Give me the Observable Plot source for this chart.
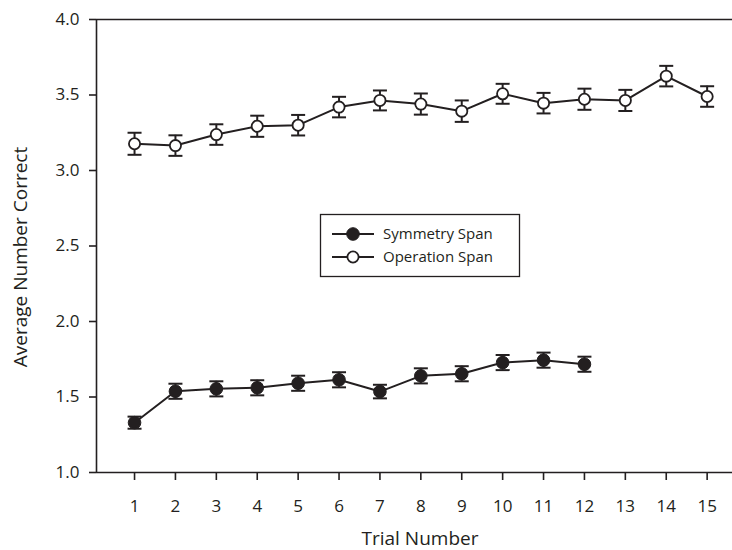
<!DOCTYPE html>
<html>
<head>
<meta charset="utf-8">
<script src="https://cdn.jsdelivr.net/npm/d3@7"></script>
<script src="https://cdn.jsdelivr.net/npm/@observablehq/plot@0.6"></script>
<style>
  html, body { margin: 0; padding: 0; background: #fff; }
  #chart { position: relative; width: 732px; height: 550px; }
</style>
</head>
<body>
<div id="chart"></div>
<script>
const trials = [1, 2, 3, 4, 5, 6, 7, 8, 9, 10, 11, 12, 13, 14, 15];
const symmetryMean = [1.33, 1.538, 1.554, 1.561, 1.591, 1.614, 1.536, 1.64, 1.654, 1.728, 1.744, 1.717];
const symmetryErr  = [0.04, 0.05, 0.05, 0.05, 0.05, 0.05, 0.045, 0.05, 0.05, 0.05, 0.05, 0.05];
const operationMean = [3.177, 3.165, 3.238, 3.293, 3.30, 3.42, 3.464, 3.44, 3.393, 3.508, 3.446, 3.472, 3.464, 3.625, 3.49];
const operationErr  = [0.073, 0.068, 0.068, 0.07, 0.068, 0.068, 0.066, 0.07, 0.071, 0.066, 0.068, 0.07, 0.07, 0.068, 0.068];
const yTicks = [1.0, 1.5, 2.0, 2.5, 3.0, 3.5, 4.0];
const seriesNames = ["Symmetry Span", "Operation Span"];
const xLabel = "Trial Number";
const yLabel = "Average Number Correct";

const ink = "#231f20";
const font = "Open Sans";

const sym = symmetryMean.map((m, i) => ({trial: trials[i], mean: m, lo: m - symmetryErr[i], hi: m + symmetryErr[i]}));
const op = operationMean.map((m, i) => ({trial: trials[i], mean: m, lo: m - operationErr[i], hi: m + operationErr[i]}));

const cap = {draw(ctx) { ctx.moveTo(-7, 0); ctx.lineTo(7, 0); }};
const xDomain = [0.07, 15.62];

function errorMarks(data) {
  return [
    Plot.ruleX(data, {x: "trial", y1: "lo", y2: "hi", stroke: ink, strokeWidth: 2}),
    Plot.dot(data, {x: "trial", y: "hi", symbol: cap, stroke: ink, strokeWidth: 2, r: 5}),
    Plot.dot(data, {x: "trial", y: "lo", symbol: cap, stroke: ink, strokeWidth: 2, r: 5})
  ];
}

const plot = Plot.plot({
  width: 732,
  height: 550,
  marginLeft: 96,
  marginRight: 0,
  marginTop: 19,
  marginBottom: 78,
  style: {fontFamily: font, fontSize: "17px", color: ink, background: "#fff"},
  x: {domain: xDomain, label: null},
  y: {domain: [1, 4], label: null},
  marks: [
    Plot.axisX({ticks: trials, tickFormat: d => String(d), tickSize: 8, tickPadding: 19, fontSize: 17, label: null, stroke: ink, strokeWidth: 1.6, fill: ink}),
    Plot.axisY({ticks: yTicks, tickFormat: d3.format(".1f"), tickSize: 7, tickPadding: 10, fontSize: 17, label: null, stroke: ink, strokeWidth: 1.6, fill: ink}),
    Plot.ruleY([1, 4], {stroke: ink, strokeWidth: 1.6}),
    Plot.ruleX([xDomain[0]], {y1: 1, y2: 4, stroke: ink, strokeWidth: 1.6}),
    ...errorMarks(op),
    ...errorMarks(sym),
    Plot.line(sym, {x: "trial", y: "mean", stroke: ink, strokeWidth: 2}),
    Plot.line(op, {x: "trial", y: "mean", stroke: ink, strokeWidth: 2}),
    Plot.dot(sym, {x: "trial", y: "mean", r: 6.3, fill: ink, stroke: ink, strokeWidth: 1}),
    Plot.dot(op, {x: "trial", y: "mean", r: 5.6, fill: "#fff", stroke: ink, strokeWidth: 1.8})
  ]
});

document.getElementById("chart").appendChild(plot);

const svg = d3.select(plot);
// enforce tick label typography on every text node Plot drew (only tick labels exist)
svg.selectAll("text")
  .attr("font-size", 17)
  .style("font-size", "17px")
  .style("font-family", font)
  .attr("fill", ink);

// axis titles
svg.append("text")
  .attr("x", 420).attr("y", 538).attr("dy", "0.35em")
  .attr("text-anchor", "middle").attr("fill", ink)
  .style("font-family", font).style("font-size", "19px")
  .text(xLabel);
svg.append("text")
  .attr("transform", "translate(20,257) rotate(-90)")
  .attr("dy", "0.35em")
  .attr("text-anchor", "middle").attr("fill", ink)
  .style("font-family", font).style("font-size", "19px")
  .text(yLabel);

// legend
const lg = svg.append("g");
lg.append("rect").attr("x", 320.5).attr("y", 214.5).attr("width", 199).attr("height", 62)
  .attr("fill", "#fff").attr("stroke", ink).attr("stroke-width", 1.3);
[234, 257].forEach((yy, i) => {
  lg.append("line").attr("x1", 332).attr("x2", 374).attr("y1", yy).attr("y2", yy)
    .attr("stroke", ink).attr("stroke-width", 2);
  lg.append("circle").attr("cx", 353).attr("cy", yy).attr("r", i === 0 ? 6.3 : 5.6)
    .attr("fill", i === 0 ? ink : "#fff").attr("stroke", ink).attr("stroke-width", i === 0 ? 1 : 1.8);
  lg.append("text").attr("x", 383).attr("y", yy).attr("dy", "0.35em").attr("fill", ink)
    .attr("text-anchor", "start")
    .style("font-family", font).style("font-size", "15px")
    .text(seriesNames[i]);
});
</script>
</body>
</html>
